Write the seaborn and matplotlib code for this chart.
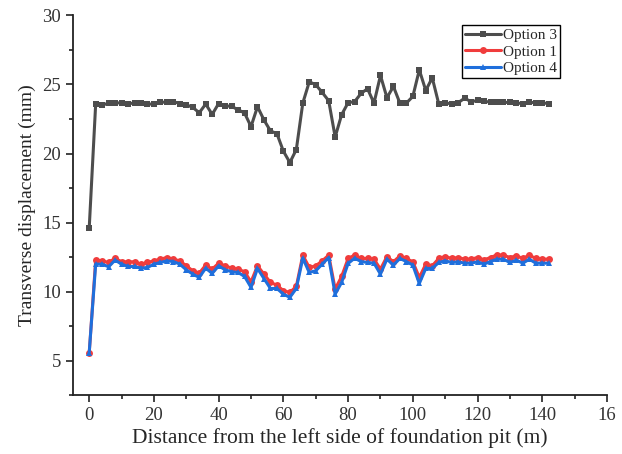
import numpy as np
import matplotlib
matplotlib.use("Agg")
import matplotlib.pyplot as plt
from matplotlib.ticker import MultipleLocator
import seaborn as sns

# distance along the pit (m)
distance = np.arange(0, 143, 2)

option3 = [14.6, 23.58, 23.5, 23.65, 23.68, 23.65, 23.58, 23.68, 23.65, 23.58,
           23.58, 23.73, 23.7, 23.75, 23.62, 23.53, 23.34, 22.95, 23.58, 22.83,
           23.62, 23.46, 23.41, 23.17, 22.93, 21.95, 23.39, 22.43, 21.64, 21.44,
           20.17, 19.35, 20.29, 23.65, 25.19, 24.98, 24.42, 23.82, 21.2, 22.81,
           23.68, 23.75, 24.35, 24.69, 23.65, 25.65, 24.04, 24.85, 23.65, 23.65,
           24.13, 26.05, 24.56, 25.48, 23.6, 23.68, 23.58, 23.68, 24.0, 23.75,
           23.84, 23.77, 23.73, 23.75, 23.7, 23.7, 23.65, 23.62, 23.73, 23.65,
           23.68, 23.6]

option1 = [5.55, 12.29, 12.24, 12.12, 12.43, 12.17, 12.17, 12.17, 12.0, 12.12,
           12.24, 12.36, 12.48, 12.36, 12.24, 11.88, 11.52, 11.35, 11.93, 11.64,
           12.07, 11.88, 11.71, 11.64, 11.45, 10.72, 11.88, 11.28, 10.68, 10.48,
           10.08, 9.96, 10.39, 12.65, 11.76, 11.88, 12.24, 12.65, 10.2, 11.11,
           12.41, 12.65, 12.41, 12.41, 12.36, 11.64, 12.55, 12.17, 12.6, 12.41,
           12.17, 11.04, 12.0, 11.88, 12.41, 12.55, 12.41, 12.48, 12.36, 12.36,
           12.48, 12.31, 12.48, 12.67, 12.65, 12.48, 12.6, 12.41, 12.65, 12.41,
           12.36, 12.36]

option4 = [5.6, 12.0, 12.0, 11.81, 12.29, 12.0, 11.83, 11.83, 11.71, 11.76,
           12.0, 12.12, 12.24, 12.19, 12.0, 11.59, 11.28, 11.04, 11.71, 11.33,
           11.88, 11.59, 11.45, 11.4, 11.11, 10.32, 11.69, 10.96, 10.24, 10.24,
           9.83, 9.6, 10.24, 12.43, 11.4, 11.52, 12.0, 12.48, 9.83, 10.68,
           12.05, 12.43, 12.19, 12.12, 12.07, 11.28, 12.36, 11.93, 12.41, 12.19,
           11.93, 10.6, 11.69, 11.69, 12.12, 12.24, 12.12, 12.17, 12.07, 12.07,
           12.17, 12.0, 12.19, 12.36, 12.36, 12.12, 12.29, 12.07, 12.36, 12.07,
           12.07, 12.07]

xticks = [0, 20, 40, 60, 80, 100, 120, 140, 160]
xticklabels = ["0", "20", "40", "60", "80", "100", "120", "140", "16"]
yticks = [5, 10, 15, 20, 25, 30]

sns.set_style("ticks")
plt.rcParams["font.family"] = ["Liberation Serif", "DejaVu Serif"]

fig = plt.figure(figsize=(6.22, 4.54), dpi=100)
ax = fig.add_axes([0.1174, 0.1289, 0.8585, 0.8374])

sns.lineplot(x=distance, y=option3, ax=ax, color="#4d4d4d", marker="s",
             markersize=4.5, markeredgewidth=0, linewidth=2.2, label="Option 3")
sns.lineplot(x=distance, y=option1, ax=ax, color="#f03c3c", marker="o",
             markersize=5, markeredgewidth=0, linewidth=2.2, label="Option 1")
sns.lineplot(x=distance, y=option4, ax=ax, color="#1f6fdc", marker="^",
             markersize=5, markeredgewidth=0, linewidth=2.2, label="Option 4")

ax.set_xlim(-5, 160)
ax.set_ylim(2.5, 30)
ax.set_xticks(xticks)
ax.set_xticklabels(xticklabels)
ax.set_yticks(yticks)
ax.xaxis.set_minor_locator(MultipleLocator(10))
ax.yaxis.set_minor_locator(MultipleLocator(2.5))
ax.tick_params(which="major", direction="out", length=5, width=1.2,
               labelsize=13.5, labelcolor="#333333", color="#222222")
ax.tick_params(which="minor", direction="out", length=3, width=1.2, color="#222222")
sns.despine(ax=ax)
for sp in ["left", "bottom"]:
    ax.spines[sp].set_linewidth(1.3)
    ax.spines[sp].set_color("#222222")

ax.set_xlabel("Distance from the left side of foundation pit (m)", fontsize=15.5, labelpad=3)
ax.set_ylabel("Transverse displacement (mm)", fontsize=14, labelpad=5)

leg = ax.legend(loc="upper right", bbox_to_anchor=(0.912, 0.974), borderaxespad=0,
                fancybox=False, edgecolor="black", framealpha=1, fontsize=11,
                handlelength=2.4, handletextpad=0.1, labelspacing=0.2,
                borderpad=0.2)
leg.get_frame().set_linewidth(1.0)

fig.savefig("out.png", dpi=100)
